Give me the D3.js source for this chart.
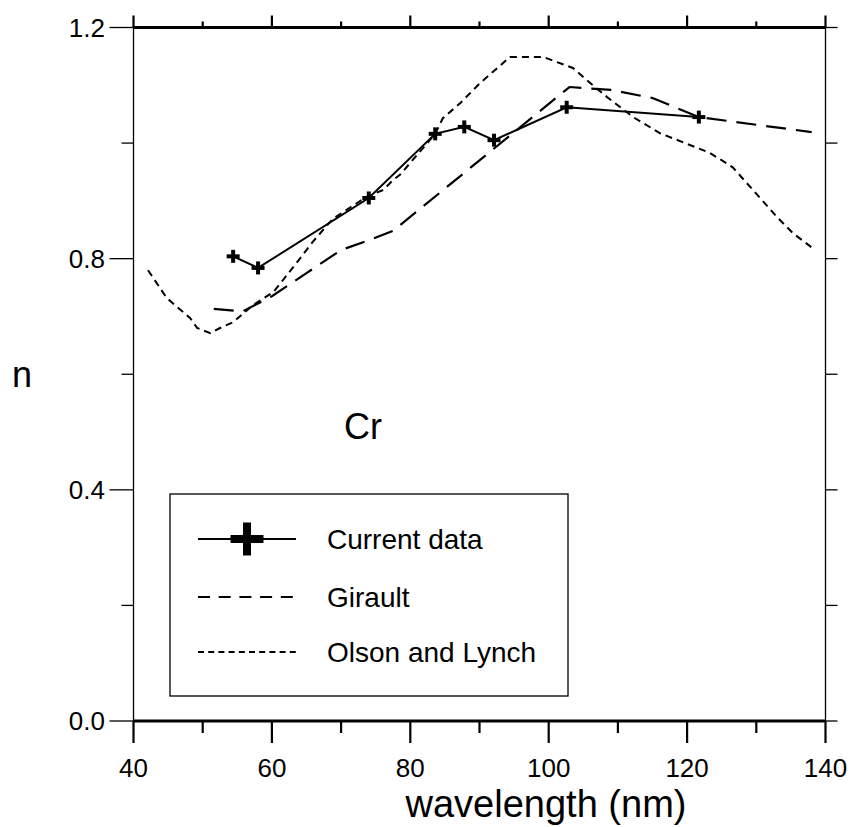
<!DOCTYPE html>
<html>
<head>
<meta charset="utf-8">
<script src="https://cdn.jsdelivr.net/npm/d3@7/dist/d3.min.js"></script>
<style>
  html, body { margin: 0; padding: 0; background: #fff; }
  text { font-family: Arial, "Liberation Sans", sans-serif; fill: #000; }
</style>
</head>
<body>
<script>
// ---- data ----
const currentWl = [54.4, 58.0, 74.0, 83.6, 87.8, 92.1, 102.6, 121.7];
const currentN  = [0.804, 0.784, 0.905, 1.016, 1.028, 1.005, 1.062, 1.045];

const giraultWl = [51.6, 55.8, 60.0, 65.0, 70.0, 74.0, 77.5, 103.0, 109.0, 115.0, 121.7, 138.0];
const giraultN  = [0.713, 0.709, 0.735, 0.775, 0.815, 0.832, 0.848, 1.097, 1.092, 1.078, 1.045, 1.019];

const olsonWl = [42.1, 44.8, 48.2, 49.2, 51.1, 52.5, 54.4, 57.3, 60.2, 61.6, 64.1, 65.9, 68.8, 73.7, 76.1, 77.5, 78.5, 83.6, 84.7, 87.2, 90.1, 94.4, 99.2, 103.5, 105.5, 108.4, 112.2, 116.1, 123.3, 126.6, 129.5, 133.0, 135.3, 138.5];
const olsonN  = [0.780, 0.732, 0.697, 0.680, 0.671, 0.680, 0.690, 0.720, 0.742, 0.763, 0.801, 0.829, 0.869, 0.907, 0.919, 0.936, 0.945, 1.016, 1.043, 1.069, 1.104, 1.149, 1.149, 1.130, 1.109, 1.080, 1.045, 1.017, 0.983, 0.958, 0.919, 0.872, 0.844, 0.815];

const xMajorTicks = [40, 60, 80, 100, 120, 140];
const xMinorTicks = [50, 70, 90, 110, 130];
const yMajorTicks = [0.0, 0.4, 0.8, 1.2];
const yMinorTicks = [0.2, 0.6, 1.0];
const legendLabels = ["Current data", "Girault", "Olson and Lynch"];
const xTitle = "wavelength (nm)";
const yTitle = "n";
const elementLabel = "Cr";

// ---- drawing ----
const W = 854, H = 827;
const svg = d3.select("body").append("svg").attr("width", W).attr("height", H);
svg.append("rect").attr("width", W).attr("height", H).attr("fill", "#fff");

const x = d3.scaleLinear().domain([40, 140]).range([133.5, 825.5]);
const y = d3.scaleLinear().domain([0, 1.2]).range([721, 27.5]);

// frame lines
const frame = svg.append("g").attr("stroke", "#000").attr("fill", "none");
frame.append("line").attr("x1", x(40)).attr("x2", x(40)).attr("y1", y(1.2)).attr("y2", y(0)).attr("stroke-width", 1.3);
frame.append("line").attr("x1", x(140)).attr("x2", x(140)).attr("y1", y(1.2)).attr("y2", y(0)).attr("stroke-width", 1.3);

yMajorTicks.forEach(v => frame.append("line").attr("x1", x(40) - 24).attr("x2", x(40)).attr("y1", y(v)).attr("y2", y(v)).attr("stroke-width", 1.3));
yMinorTicks.forEach(v => frame.append("line").attr("x1", x(40) - 12).attr("x2", x(40)).attr("y1", y(v)).attr("y2", y(v)).attr("stroke-width", 1.3));
yMajorTicks.concat(yMinorTicks).forEach(v => frame.append("line").attr("x1", x(140)).attr("x2", x(140) + 12).attr("y1", y(v)).attr("y2", y(v)).attr("stroke-width", 1.3));

frame.append("line").attr("x1", x(40)).attr("x2", x(140)).attr("y1", y(0)).attr("y2", y(0)).attr("stroke-width", 3);
frame.append("line").attr("x1", x(40)).attr("x2", x(140)).attr("y1", y(1.2)).attr("y2", y(1.2)).attr("stroke-width", 3);

xMajorTicks.forEach(v => {
  frame.append("line").attr("x1", x(v)).attr("x2", x(v)).attr("y1", y(0)).attr("y2", y(0) + 22).attr("stroke-width", 2.2);
  frame.append("line").attr("x1", x(v)).attr("x2", x(v)).attr("y1", y(1.2) - 12).attr("y2", y(1.2)).attr("stroke-width", 2.2);
});
xMinorTicks.forEach(v => {
  frame.append("line").attr("x1", x(v)).attr("x2", x(v)).attr("y1", y(0)).attr("y2", y(0) + 12).attr("stroke-width", 2.2);
  frame.append("line").attr("x1", x(v)).attr("x2", x(v)).attr("y1", y(1.2) - 6).attr("y2", y(1.2)).attr("stroke-width", 2.2);
});

// tick labels
svg.append("g").selectAll("text").data(xMajorTicks).join("text")
  .attr("x", d => x(d)).attr("y", 777).attr("text-anchor", "middle")
  .attr("font-size", 26).text(d => d);
svg.append("g").selectAll("text").data(yMajorTicks).join("text")
  .attr("x", 105).attr("y", d => y(d) + 9).attr("text-anchor", "end")
  .attr("font-size", 26).text(d => d.toFixed(1));

// axis titles
svg.append("text").attr("x", 546).attr("y", 817).attr("text-anchor", "middle")
  .attr("font-size", 38).text(xTitle);
svg.append("text").attr("x", 22).attr("y", 387).attr("text-anchor", "middle")
  .attr("font-size", 36).text(yTitle);

// element label
svg.append("text").attr("x", 344).attr("y", 439).attr("font-size", 36).text(elementLabel);

// series
const line = d3.line().x(d => x(d[0])).y(d => y(d[1]));
const gData = giraultWl.map((w, i) => [w, giraultN[i]]);
const oData = olsonWl.map((w, i) => [w, olsonN[i]]);
const cData = currentWl.map((w, i) => [w, currentN[i]]);

svg.append("path").datum(oData).attr("d", line).attr("fill", "none").attr("stroke", "#000")
  .attr("stroke-width", 2).attr("stroke-dasharray", "7,5");
svg.append("path").datum(gData).attr("d", line).attr("fill", "none").attr("stroke", "#000")
  .attr("stroke-width", 2.2).attr("stroke-dasharray", "20,10");
svg.append("path").datum(cData).attr("d", line).attr("fill", "none").attr("stroke", "#000")
  .attr("stroke-width", 2);

const plus = (g, cx, cy, s, w) => {
  g.append("line").attr("x1", cx - s / 2).attr("x2", cx + s / 2).attr("y1", cy).attr("y2", cy).attr("stroke", "#000").attr("stroke-width", w);
  g.append("line").attr("x1", cx).attr("x2", cx).attr("y1", cy - s / 2).attr("y2", cy + s / 2).attr("stroke", "#000").attr("stroke-width", w);
};
const mk = svg.append("g");
cData.forEach(d => plus(mk, x(d[0]), y(d[1]), 13, 4));

// legend
const lg = svg.append("g");
lg.append("rect").attr("x", 170).attr("y", 494).attr("width", 398).attr("height", 202)
  .attr("fill", "#fff").attr("stroke", "#000").attr("stroke-width", 1.3);
const rows = [539, 597, 652];
lg.append("line").attr("x1", 198).attr("x2", 296).attr("y1", rows[0]).attr("y2", rows[0]).attr("stroke", "#000").attr("stroke-width", 2);
plus(lg, 247, rows[0], 33, 8);
lg.append("line").attr("x1", 198).attr("x2", 296).attr("y1", rows[1]).attr("y2", rows[1]).attr("stroke", "#000").attr("stroke-width", 2).attr("stroke-dasharray", "12,8.7");
lg.append("line").attr("x1", 198).attr("x2", 296).attr("y1", rows[2]).attr("y2", rows[2]).attr("stroke", "#000").attr("stroke-width", 2).attr("stroke-dasharray", "6,4.2");
lg.selectAll("text.lab").data(legendLabels).join("text").attr("class", "lab")
  .attr("x", 327).attr("y", (d, i) => rows[i] + 10).attr("font-size", 28).text(d => d);
</script>
</body>
</html>
